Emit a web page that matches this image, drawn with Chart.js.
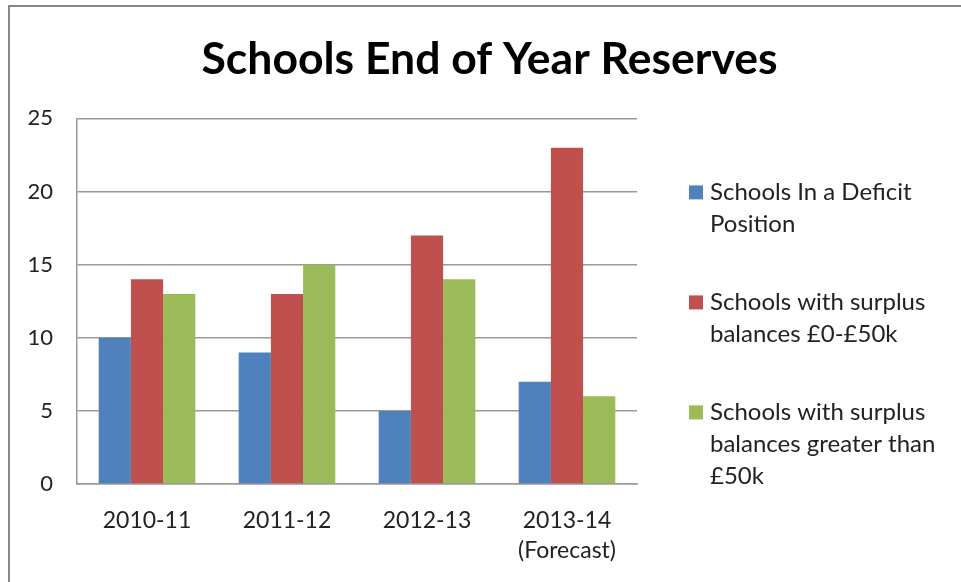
<!DOCTYPE html>
<html>
<head>
<meta charset="utf-8">
<title>Schools End of Year Reserves</title>
<script src="https://cdn.jsdelivr.net/npm/chart.js@4.4.0/dist/chart.umd.min.js"></script>
<style>
  body { margin: 0; background: #fff; }
  #wrap { position: relative; width: 961px; height: 582px; overflow: hidden; }
  #marco { position: absolute; left: 8px; top: 5px; width: 1000px; height: 700px;
           border-top: 2px solid #878787; border-left: 2px solid #878787; }
  #grafico { position: absolute; left: 0; top: 0; }
</style>
</head>
<body>
<div id="wrap">
  <div id="marco"></div>
  <canvas id="grafico" width="961" height="582"></canvas>
</div>
<script>
// datos del gráfico
const categorias = ["2010-11", "2011-12", "2012-13", ["2013-14", "(Forecast)"]]
const deficit = [10, 9, 5, 7]
const superavit0a50 = [14, 13, 17, 23]
const superavitMas50 = [13, 15, 14, 6]
const nombresSeries = [
    "Schools In a Deficit Position",
    "Schools with surplus balances £0-£50k",
    "Schools with surplus balances greater than £50k"
]
// texto de la leyenda partido en líneas
const lineasLeyenda = [
    ["Schools In a Deficit", "Position"],
    ["Schools with surplus", "balances £0-£50k"],
    ["Schools with surplus", "balances greater than", "£50k"]
]
const colores = ["#4F81BD", "#C0504D", "#9BBB59"]

const fuente = "Lato, 'Liberation Sans', sans-serif"

//leyenda dibujada a mano para poder partir el texto
const leyendaPlugin = {
    id: "leyendaMultilinea",
    afterDraw(chart) {
        const ctx = chart.ctx
        const area = chart.chartArea
        let y = area.top + 82
        ctx.save()
        ctx.font = `24px ${fuente}`
        ctx.textBaseline = "alphabetic"
        ctx.textAlign = "left"
        chart.data.datasets.forEach((ds, i) => {
            ctx.fillStyle = ds.backgroundColor
            ctx.fillRect(area.right + 52, y - 15, 14, 14)
            ctx.fillStyle = "#222"
            lineasLeyenda[i].forEach((linea, j) => {
                ctx.fillText(linea, area.right + 73, y + j * 32)
            })
            y += lineasLeyenda[i].length * 32 + 46
        })
        ctx.restore()
    }
}

const datasets = [deficit, superavit0a50, superavitMas50].map((valores, i) => ({
    label: nombresSeries[i],
    data: valores,
    backgroundColor: colores[i],
    borderWidth: 0,
    categoryPercentage: 0.69,
    barPercentage: 1.0
}))

const config = {
    type: "bar",
    data: {
        labels: categorias,
        datasets: datasets
    },
    options: {
        responsive: false,
        animation: false,
        layout: {
            padding: { left: 18, right: 0, top: 0, bottom: 0 }
        },
        plugins: {
            legend: { display: false },
            tooltip: { enabled: false },
            title: {
                display: true,
                text: "Schools End of Year Reserves",
                color: "#000",
                font: { family: fuente, size: 44.5, weight: "bold" },
                padding: { top: 33, bottom: 32 }
            }
        },
        scales: {
            x: {
                grid: { display: false, drawTicks: false },
                border: { display: true, color: "#999", width: 1.5 },
                ticks: {
                    color: "#222",
                    padding: 22,
                    font: { family: fuente, size: 23, lineHeight: 1.3 },
                    maxRotation: 0
                },
                afterFit(scale) { scale.height = 98 }
            },
            y: {
                min: 0,
                max: 25,
                grid: { color: "#999", lineWidth: 1.5, drawTicks: false },
                border: { display: true, color: "#999", width: 1.5 },
                ticks: {
                    stepSize: 5,
                    color: "#222",
                    padding: 24,
                    font: { family: fuente, size: 22 }
                },
                afterFit(scale) { scale.width = 59 }
            },
            // eje vacío a la derecha: deja sitio a la leyenda
            espacio: {
                type: "linear",
                position: "right",
                grid: { display: false, drawTicks: false },
                border: { display: false },
                ticks: { display: false },
                afterFit(scale) { scale.width = 324 }
            }
        }
    },
    plugins: [leyendaPlugin]
}

const grafico = new Chart(document.getElementById("grafico"), config)
</script>
</body>
</html>
